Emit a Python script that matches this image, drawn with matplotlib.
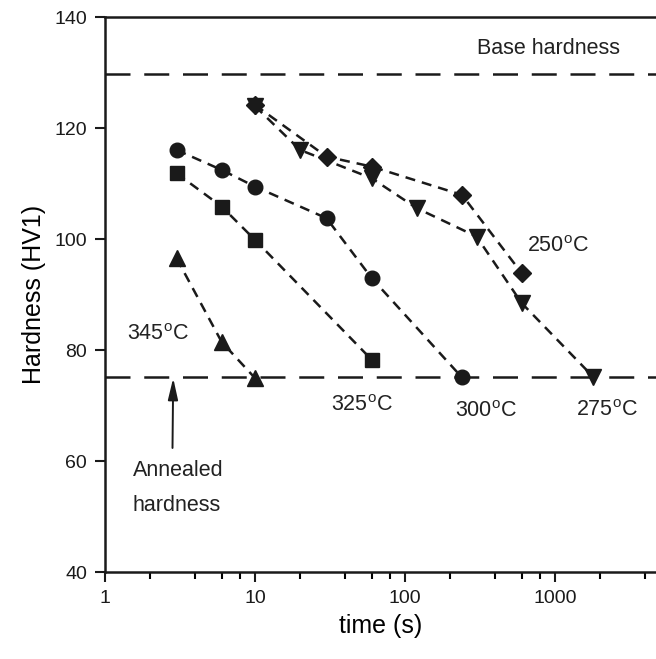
import matplotlib
matplotlib.use("Agg")
import matplotlib.pyplot as plt
from matplotlib.ticker import FixedLocator, NullFormatter

plt.rcParams['font.family'] = ['Liberation Sans', 'DejaVu Sans']
plt.rcParams['mathtext.default'] = 'regular'

# Data
t_250 = [10, 30, 60, 240, 600]
h_250 = [124.2, 114.9, 113.1, 108.0, 93.9]
t_275 = [10, 20, 60, 120, 300, 600, 1800]
h_275 = [124.0, 116.1, 111.0, 105.6, 100.5, 88.5, 75.2]
t_300 = [3, 6, 10, 30, 60, 240]
h_300 = [116.1, 112.5, 109.5, 103.8, 93.0, 75.1]
t_325 = [3, 6, 10, 60]
h_325 = [111.9, 105.9, 99.9, 78.3]
t_345 = [3, 6, 10]
h_345 = [96.6, 81.5, 75.0]
base_hardness = 129.7
annealed_hardness = 75.2

fig = plt.figure(figsize=(6.56, 6.59), dpi=100)
ax = fig.add_axes([0.160, 0.1316, 0.840, 0.8421])
ax.set_xscale('log')
ax.set_xlim(1, 4714)
ax.set_ylim(40, 140)

dash = dict(color='#1a1a1a', lw=1.8, ls=(0, (4, 2.8)))
ax.plot(t_250, h_250, marker='D', ms=9.5, **dash)
ax.plot(t_275, h_275, marker='v', ms=11, **dash)
ax.plot(t_300, h_300, marker='o', ms=10.5, **dash)
ax.plot(t_325, h_325, marker='s', ms=9.5, **dash)
ax.plot(t_345, h_345, marker='^', ms=11.5, **dash)

ref = dict(color='#1a1a1a', lw=1.8, ls=(0, (10, 5.5)))
ax.axhline(base_hardness, **ref)
ax.axhline(annealed_hardness, **ref)

fs = 15.5
lab = '$^{o}$C'
tc = '#222222'
ax.text(900, 134.3, 'Base hardness', fontsize=fs, ha='center', va='center', color=tc)
ax.text(1047, 98.7, '250' + lab, fontsize=fs, ha='center', va='center', color=tc)
ax.text(2.26, 82.8, '345' + lab, fontsize=fs, ha='center', va='center', color=tc)
ax.text(51.4, 70.1, '325' + lab, fontsize=fs, ha='center', va='center', color=tc)
ax.text(347, 68.9, '300' + lab, fontsize=fs, ha='center', va='center', color=tc)
ax.text(2212, 69.2, '275' + lab, fontsize=fs, ha='center', va='center', color=tc)
ax.text(3.07, 58.4, 'Annealed', fontsize=fs, ha='center', va='center', color=tc)
ax.text(3.0, 52.1, 'hardness', fontsize=fs, ha='center', va='center', color=tc)
ax.annotate('', xy=(2.85, annealed_hardness - 0.2), xytext=(2.82, 62.4),
            arrowprops=dict(arrowstyle='-|>,head_length=1.3,head_width=0.3',
                            color='#1a1a1a', lw=1.4,
                            mutation_scale=10, shrinkA=0, shrinkB=0))

ax.set_xlabel('time (s)', fontsize=18, labelpad=5)
ax.set_ylabel('Hardness (HV1)', fontsize=18, labelpad=6)

ax.xaxis.set_major_locator(FixedLocator([1, 10, 100, 1000]))
ax.set_xticklabels(['1', '10', '100', '1000'])
minors = [2, 4, 6, 8, 20, 40, 60, 80, 200, 400, 600, 800, 2000, 4000]
ax.xaxis.set_minor_locator(FixedLocator(minors))
ax.xaxis.set_minor_formatter(NullFormatter())
ax.set_yticks([40, 60, 80, 100, 120, 140])

ax.tick_params(axis='both', which='major', direction='out', length=7, width=1.5,
               labelsize=14, colors='#1a1a1a', pad=6)
ax.tick_params(axis='x', which='minor', direction='out', length=5, width=1.5)
ax.tick_params(axis='y', which='minor', left=False)

for s in ['left', 'bottom', 'top']:
    ax.spines[s].set_linewidth(1.8)
    ax.spines[s].set_color('#1a1a1a')
ax.spines['right'].set_visible(False)

fig.savefig('out.png', dpi=100)
